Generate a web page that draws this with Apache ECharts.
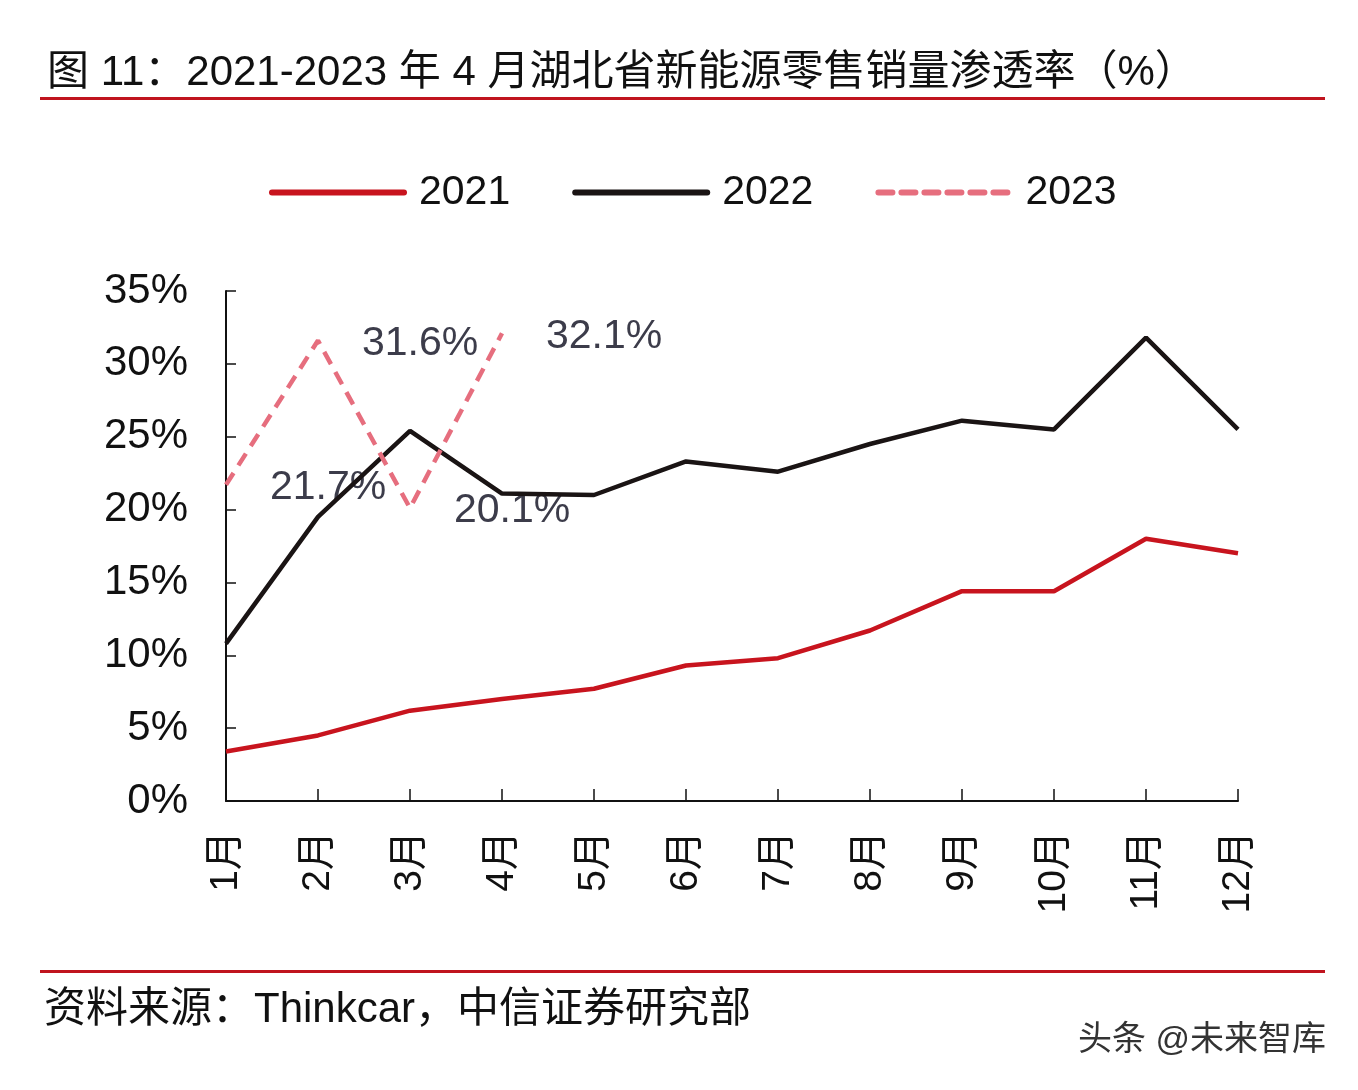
<!DOCTYPE html>
<html><head><meta charset="utf-8">
<script src="https://cdn.jsdelivr.net/npm/echarts@6/dist/echarts.min.js"></script>
<style>html,body{margin:0;padding:0;background:#fff}#c{width:1358px;height:1090px}</style>
</head><body><div id="c"></div>
<script>
const months = ['1月','2月','3月','4月','5月','6月','7月','8月','9月','10月','11月','12月'];
const yTicks = [0,5,10,15,20,25,30,35];
const s2021 = [3.4,4.5,6.2,7.0,7.7,9.3,9.8,11.7,14.4,14.4,18.0,17.0];
const s2022 = [10.8,19.5,25.4,21.1,21.0,23.3,22.6,24.5,26.1,25.5,31.8,25.5];
const s2023 = [21.7,31.6,20.1,32.1];
const FONT = '"Liberation Sans", Arial, "Noto Sans CJK SC", sans-serif';
const chart = echarts.init(document.getElementById('c'));
chart.setOption({
  backgroundColor:'#fff',
  animation:false,
  title:{text:'图 11：2021-2023 年 4 月湖北省新能源零售销量渗透率（%）',left:42,top:47,
    textStyle:{fontFamily:FONT,fontSize:42,fontWeight:'normal',color:'#111'}},
  graphic:[
    {type:'rect',shape:{x:40,y:97,width:1285,height:3},style:{fill:'#C0141E'}},
    {type:'rect',shape:{x:40,y:970,width:1285,height:3},style:{fill:'#C0141E'}},
    {type:'text',left:44,top:989,style:{text:'资料来源：Thinkcar，中信证券研究部',font:'42px '+FONT,fill:'#111'}},
    {type:'text',left:1078,top:1024,style:{text:'头条 @未来智库',font:'34px '+FONT,fill:'#333'}}
  ],
  legend:{left:264,top:167,itemWidth:132,itemHeight:10,itemGap:62,
    itemStyle:{opacity:0},
    lineStyle:{width:6,cap:'round'},
    textStyle:{fontFamily:FONT,fontSize:41,color:'#111',padding:[0,0,0,10]},
    data:['2021','2022','2023']},
  grid:{left:226,right:120,top:291,bottom:289},
  xAxis:{type:'category',data:months,boundaryGap:false,
    axisLine:{lineStyle:{color:'#111',width:2}},
    axisTick:{inside:true,length:12,lineStyle:{color:'#111',width:1.5}},
    axisLabel:{rotate:90,margin:30,fontFamily:FONT,fontSize:39,color:'#111'}},
  yAxis:{type:'value',min:0,max:35,interval:5,
    axisLine:{show:true,lineStyle:{color:'#111',width:2}},
    axisTick:{show:true,inside:true,length:10,lineStyle:{color:'#111',width:1.5}},
    splitLine:{show:false},
    axisLabel:{formatter:function(v){return yTicks.indexOf(v)>=0? v+'%':'';},margin:38,fontFamily:FONT,fontSize:42,color:'#111'}},
  series:[
    {name:'2021',type:'line',data:s2021,symbol:'none',color:'#C8141E',z:3,lineStyle:{width:4.5,color:'#C8141E'}},
    {name:'2022',type:'line',data:s2022,symbol:'none',color:'#1a1414',z:3,lineStyle:{width:4.5,color:'#1a1414'}},
    {name:'2023',type:'line',data:s2023,symbol:'none',color:'#E66E7E',z:4,
      lineStyle:{width:4.5,type:[14,9],color:'#E66E7E'}},
    {name:'2023标签',type:'scatter',data:s2023,symbolSize:2,itemStyle:{color:'rgba(0,0,0,0)'},z:1,silent:true,
      label:{show:true,position:'right',distance:43,offset:[0,3],fontFamily:FONT,fontSize:41,color:'#3c3c4a',opacity:1,
        formatter:function(p){return p.value.toFixed(1)+'%';}}}
  ]
});
</script></body></html>
